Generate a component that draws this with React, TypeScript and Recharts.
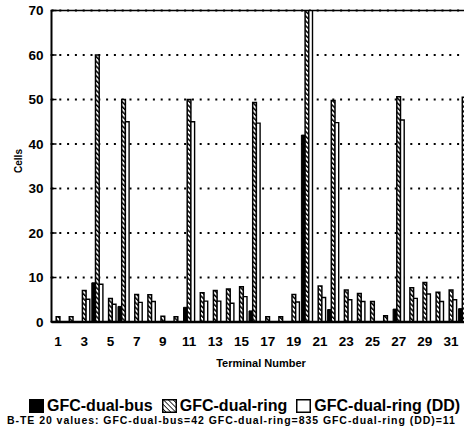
import { Bar, BarChart, CartesianGrid, Label, ReferenceLine, XAxis, YAxis } from "recharts";

const terminals = ["1", "2", "3", "4", "5", "6", "7", "8", "9", "10", "11", "12", "13", "14", "15", "16", "17", "18", "19", "20", "21", "22", "23", "24", "25", "26", "27", "28", "29", "30", "31", "32"];
const dualBus = [0, 0, 0, 8.8, 0, 3.5, 0, 0, 0, 0, 3.3, 0, 0, 0, 0, 2.5, 0, 0, 0, 42, 0, 2.8, 0, 0, 0, 0, 2.9, 0, 0, 0, 0, 3];
const dualRing = [1.2, 1.2, 7.1, 60, 5.3, 50, 6.2, 6.1, 1.3, 1.2, 50, 6.6, 7.1, 7.4, 7.9, 49.3, 1.2, 1.2, 6.2, 835, 8.1, 49.8, 7.2, 6.4, 4.6, 1.4, 50.6, 7.7, 8.9, 6.7, 7.2, 50.5];
const dualRingDD = [0, 0, 5.1, 8.5, 4.0, 45, 4.4, 4.6, 0, 0, 45, 4.7, 4.7, 4.2, 5.7, 44.7, 0, 0, 4.5, 115, 5.5, 44.8, 5.0, 4.6, 0, 0, 45.4, 5.3, 6.3, 4.6, 5.0, 45];
const yTicks = [0, 10, 20, 30, 40, 50, 60, 70];
const seriesNames = ["GFC-dual-bus", "GFC-dual-ring", "GFC-dual-ring (DD)"];
const caption = "B-TE 20 values: GFC-dual-bus=42 GFC-dual-ring=835 GFC-dual-ring (DD)=11";

const data = terminals.map((t, i) => ({ terminal: t, bus: dualBus[i], ring: dualRing[i], dd: dualRingDD[i] }));

const FONT = '"Liberation Sans", Arial, sans-serif';

const YTick = ({ x, y, payload }: any) => (
  <g>
    <line x1={x + 7} x2={x + 13} y1={y} y2={y} stroke="#000" strokeWidth={1.5} />
    <text x={x} y={y} dy={4.8} textAnchor="end" fontFamily={FONT} fontWeight="bold" fontSize={13.5} fill="#000">
      {payload.value}
    </text>
  </g>
);

const Hatch = ({ id, w }: { id: string; w: number }) => (
  <pattern id={id} patternUnits="userSpaceOnUse" width={3.4} height={3.4} patternTransform="rotate(-45)">
    <rect width={3.4} height={3.4} fill="#fff" />
    <line x1={0} y1={0} x2={0} y2={3.4} stroke="#000" strokeWidth={w} />
  </pattern>
);

const Swatch = ({ kind }: { kind: string }) => (
  <svg width={15} height={14} style={{ display: "block" }}>
    <defs>
      <Hatch id="hatchLegend" w={1.6} />
    </defs>
    <rect
      x={0.75}
      y={0.75}
      width={13.5}
      height={12.5}
      fill={kind === "bus" ? "#000" : kind === "ring" ? "url(#hatchLegend)" : "#fff"}
      stroke="#000"
      strokeWidth={1.5}
    />
  </svg>
);

export default function App() {
  const kinds = ["bus", "ring", "dd"];
  return (
    <div style={{ position: "absolute", left: 0, top: 0, width: 464, height: 433, overflow: "hidden", background: "#fff" }}>
      <BarChart
        width={480}
        height={433}
        data={data}
        margin={{ top: 10.5, right: 9.3, left: 11.5, bottom: 65 }}
        barGap={0}
        barSize={3.7}
      >
        <defs>
          <Hatch id="hatchBar" w={3} />
        </defs>
        <CartesianGrid vertical={false} stroke="#000" strokeWidth={1.8} strokeDasharray="2 5.8" />
        <XAxis
          dataKey="terminal"
          interval={1}
          height={46}
          tickLine={false}
          tickSize={0}
          tickMargin={14}
          axisLine={{ stroke: "#000", strokeWidth: 2.5 }}
          tick={{ fill: "#000", fontSize: 13.5, fontWeight: "bold", fontFamily: FONT }}
        >
          <Label
            content={({ viewBox }: any) => (
              <text
                x={261}
                y={viewBox.y + 45}
                textAnchor="middle"
                fontFamily={FONT}
                fontWeight="bold"
                fontSize={11}
                fill="#000"
              >
                Terminal Number
              </text>
            )}
          />
        </XAxis>
        <YAxis
          width={40}
          domain={[0, 70]}
          ticks={yTicks}
          allowDataOverflow
          tickLine={false}
          tickSize={0}
          tickMargin={8}
          tick={<YTick />}
          axisLine={{ stroke: "#000", strokeWidth: 2 }}
        >
          <Label
            content={() => (
              <text
                transform="translate(22,161) rotate(-90)"
                textAnchor="middle"
                fontFamily={FONT}
                fontWeight="bold"
                fontSize={10}
                fill="#000"
              >
                Cells
              </text>
            )}
          />
        </YAxis>
        <Bar dataKey="bus" name={seriesNames[0]} fill="#000" stroke="#000" strokeWidth={1} isAnimationActive={false} />
        <Bar dataKey="ring" name={seriesNames[1]} fill="url(#hatchBar)" stroke="#000" strokeWidth={1.5} isAnimationActive={false} />
        <Bar dataKey="dd" name={seriesNames[2]} fill="#fff" stroke="#000" strokeWidth={1.4} isAnimationActive={false} />
        <ReferenceLine y={70} stroke="#000" strokeWidth={1.5} />
      </BarChart>
      <div
        style={{
          position: "absolute",
          left: 29,
          top: 397,
          display: "flex",
          alignItems: "center",
          fontFamily: FONT,
          fontWeight: "bold",
          fontSize: 16,
          whiteSpace: "nowrap",
          color: "#000",
        }}
      >
        {seriesNames.map((name, i) => (
          <div key={name} style={{ display: "flex", alignItems: "center", marginRight: 9 }}>
            <Swatch kind={kinds[i]} />
            <span style={{ marginLeft: 3 }}>{name}</span>
          </div>
        ))}
      </div>
      <div
        style={{
          position: "absolute",
          left: 7,
          top: 414,
          fontFamily: FONT,
          fontWeight: "bold",
          fontSize: 10.5,
          letterSpacing: 0.95,
          whiteSpace: "nowrap",
          color: "#000",
        }}
      >
        {caption}
      </div>
    </div>
  );
}
